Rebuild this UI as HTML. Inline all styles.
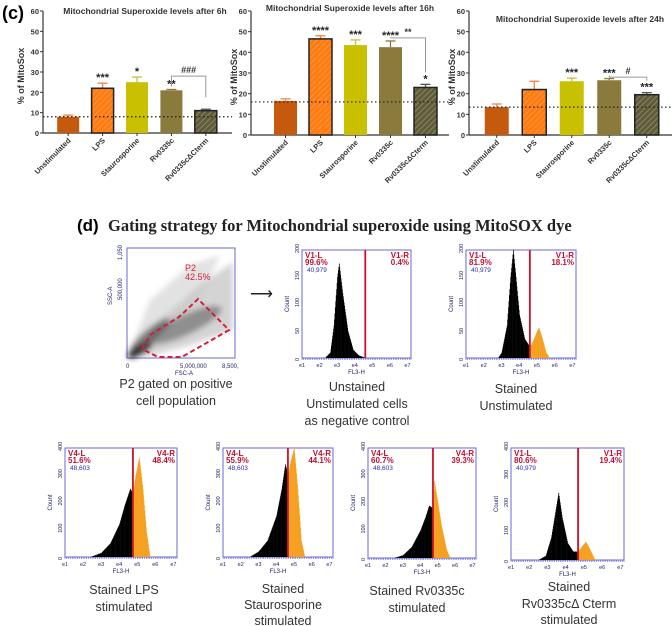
<!DOCTYPE html>
<html><head><meta charset="utf-8"><style>
html,body{margin:0;padding:0;background:#fff;}
svg{display:block;font-family:"Liberation Sans",Arial,sans-serif;}
.tick{font-size:7.5px;font-weight:bold;fill:#333;}
.cap{font-family:"Liberation Sans",sans-serif;font-size:12.5px;fill:#333;}
</style></head><body>
<svg id="fig" width="672" height="626" viewBox="0 0 672 626">
<defs>
<pattern id="hatchLPS" width="4" height="4" patternUnits="userSpaceOnUse" patternTransform="rotate(45)">
<rect width="4" height="4" fill="#ff7a12"/><line x1="0" y1="0" x2="0" y2="4" stroke="#f9a040" stroke-width="1.5"/></pattern>
<pattern id="hatchCT" width="4" height="4" patternUnits="userSpaceOnUse" patternTransform="rotate(45)">
<rect width="4" height="4" fill="#5f5c3c"/><line x1="0" y1="0" x2="0" y2="4" stroke="#9a9670" stroke-width="1.4"/></pattern>
<filter id="blur"><feGaussianBlur stdDeviation="3"/></filter>
</defs>
<text x="2" y="19" font-size="18" font-weight="bold">(c)</text>
<g id="bars"></g>
<text x="77" y="231" font-size="17" font-weight="bold">(d)</text>
<text x="108" y="231" font-size="16.5" font-family="Liberation Serif,serif" font-weight="bold" fill="#222">Gating strategy for Mitochondrial superoxide using MitoSOX dye</text>
<g id="scatter">
<rect x="127" y="248" width="108" height="110" fill="#fff" stroke="#6a6ad0" stroke-width="1"/>
<g filter="url(#blur)" opacity="0.85">
<polygon points="128,357 160,320 200,285 233,262 233,330 190,345 150,356" fill="#aaa" opacity="0.6"/>
<polygon points="128,357 150,300 190,265 220,255 200,300 150,345" fill="#bbb" opacity="0.5"/>
<ellipse cx="185" cy="325" rx="40" ry="10" transform="rotate(-25 185 325)" fill="#444" opacity="0.6"/>
<ellipse cx="150" cy="335" rx="25" ry="6" transform="rotate(-40 150 335)" fill="#333" opacity="0.7"/>
<ellipse cx="140" cy="350" rx="14" ry="5" transform="rotate(-30 140 350)" fill="#111"/>
</g>
<polygon points="142,349 150,335 179,317 198,299 229,330 182,357 158,357" fill="none" stroke="#d0203a" stroke-width="2" stroke-dasharray="5,3"/>
<text x="185" y="271" font-size="9" fill="#d0203a">P2</text><text x="185" y="280" font-size="9" fill="#d0203a">42.5%</text>
<text x="126" y="368" font-size="6" fill="#226">0</text><text x="180" y="368" font-size="6" fill="#226">5,000,000</text><text x="222" y="368" font-size="6" fill="#226">8,500,</text>
<text x="175" y="375" font-size="6" fill="#226">FSC-A</text>
<text transform="translate(112,305) rotate(-90)" font-size="6" fill="#226">SSC-A</text>
<text transform="translate(122,300) rotate(-90)" font-size="6" fill="#226">500,000</text>
<text transform="translate(122,260) rotate(-90)" font-size="6" fill="#226">1,050</text>
</g>
<text x="250" y="299" font-size="16" fill="#222">⟶</text>
<g id="hists"></g>
<g>
<text class="cap" x="176" y="388" text-anchor="middle">P2 gated on positive</text>
<text class="cap" x="176" y="405" text-anchor="middle">cell population</text>
<text class="cap" x="357" y="391" text-anchor="middle">Unstained</text>
<text class="cap" x="357" y="408" text-anchor="middle">Unstimulated cells</text>
<text class="cap" x="357" y="425" text-anchor="middle">as negative control</text>
<text class="cap" x="516" y="393" text-anchor="middle">Stained</text>
<text class="cap" x="516" y="410" text-anchor="middle">Unstimulated</text>
<text class="cap" x="124" y="594" text-anchor="middle">Stained LPS</text>
<text class="cap" x="124" y="611" text-anchor="middle">stimulated</text>
<text class="cap" x="283" y="593" text-anchor="middle">Stained</text>
<text class="cap" x="283" y="609" text-anchor="middle">Staurosporine</text>
<text class="cap" x="283" y="625" text-anchor="middle">stimulated</text>
<text class="cap" x="417" y="595" text-anchor="middle">Stained Rv0335c</text>
<text class="cap" x="417" y="612" text-anchor="middle">stimulated</text>
<text class="cap" x="569" y="591" text-anchor="middle">Stained</text>
<text class="cap" x="569" y="608" text-anchor="middle">Rv0335cΔ Cterm</text>
<text class="cap" x="569" y="624" text-anchor="middle">stimulated</text>
</g>
</svg>
<script>
const NS="http://www.w3.org/2000/svg";
// ---- bar chart data ----
const categories=["Unstimulated","LPS","Staurosporine","Rv0335c","Rv0335c\u0394Cterm"];
const titles=["Mitochondrial Superoxide levels after 6h","Mitochondrial Superoxide levels after 16h","Mitochondrial Superoxide levels after 24h"];
const means6h=[8,22,25,21,11];
const errs6h=[0.8,2.5,2.5,0.4,0.7];
const sig6h=["","***","*","**",""];
const means16h=[16.5,46.5,43.5,42.5,23];
const errs16h=[1,1.5,2.5,3,1.5];
const sig16h=["","****","***","****","*"];
const means24h=[13.5,22,26,26.5,19.5];
const errs24h=[1.5,4,1.5,0.8,1];
const sig24h=["","","***","***","***"];
const baselines=[8,16,13.5];
const brackets=[["###",28,14],["**",47,26],["#",28,22]];
const yTicks=[0,10,20,30,40,50,60];

const fills=["#c55a0e","url(#hatchLPS)","#c8c000","#8a7b3c","url(#hatchCT)"];
const errCol=["#e08a50","#f08040","#c8c040","#8a7b3c","#555"];
const strokes=["none","#222","none","none","#222"];
const layouts=[
 {ax:43,y0:133,yt:11,band0:51,bw:34.4,w:22,end:232,tx:145,ty:14,lab:24},
 {ax:251,y0:135,yt:11,band0:268,bw:35,w:23,end:449,tx:350,ty:11,lab:237},
 {ax:469,y0:135,yt:11,band0:478,bw:37.5,w:24,end:672,tx:580,ty:22,lab:455}];
const allMeans=[means6h,means16h,means24h],allErrs=[errs6h,errs16h,errs24h],allSig=[sig6h,sig16h,sig24h];
const gb=document.getElementById('bars');
function el(t,a,p){const e=document.createElementNS(NS,t);for(const k in a)e.setAttribute(k,a[k]);(p||gb).appendChild(e);return e;}
layouts.forEach((L,ci)=>{
 const g=el('g',{});
 
 
 const y=v=>L.y0-(v/60)*(L.y0-L.yt);
 const xc=i=>L.band0+L.bw*(i+0.5);
 const t=el('text',{x:L.tx,y:L.ty,'font-size':8.5,'font-weight':'bold','text-anchor':'middle',fill:'#333'},g);t.textContent=titles[ci];
 
 
 const yl=el('text',{transform:`translate(${L.lab},${(L.y0+L.yt)/2+4}) rotate(-90)`,'font-size':9,'font-weight':'bold','text-anchor':'middle',fill:'#333'},g);yl.textContent='% of MitoSox';
 
 
 el('line',{x1:L.ax,x2:L.ax,y1:L.yt,y2:L.y0,stroke:'#333','stroke-width':1.2},g);
 el('line',{x1:L.ax,x2:L.end,y1:L.y0,y2:L.y0,stroke:'#333','stroke-width':1.2},g);
 yTicks.forEach(v=>{el('line',{x1:L.ax-3,x2:L.ax,y1:y(v),y2:y(v),stroke:'#333'},g);
  const tt=el('text',{x:L.ax-4,y:y(v)+3,'text-anchor':'end',class:'tick'},g);tt.textContent=v;
  
  });
 categories.forEach((c,i)=>{
  const m=allMeans[ci][i],e=allErrs[ci][i],x=xc(i);
  el('line',{x1:x,x2:x,y1:y(m),y2:y(m+e),stroke:errCol[i],'stroke-width':1.3},g);
  el('line',{x1:x-5,x2:x+5,y1:y(m+e),y2:y(m+e),stroke:errCol[i],'stroke-width':1.3},g);
  const r=el('rect',{x:x-L.w/2,y:y(m),width:L.w,height:y(0)-y(m),fill:fills[i],stroke:strokes[i],'stroke-width':1.5},g);
  
  
  el('line',{x1:x,x2:x,y1:L.y0,y2:L.y0+3,stroke:'#333'},g);
  const s=el('text',{x:x,y:y(m+e)-2,'text-anchor':'middle','font-size':11,'font-weight':'bold',fill:'#222'},g);s.textContent=allSig[ci][i];
  
  
  const xl=el('text',{transform:`translate(${x+3},${L.y0+8}) rotate(-45)`,'text-anchor':'end',class:'tick'},g);xl.textContent=c;
  
  
 });
 el('line',{x1:L.ax,x2:L.end,y1:y(baselines[ci]),y2:y(baselines[ci]),stroke:'#222','stroke-width':1.2,'stroke-dasharray':'1.5,2.5'},g);
 const B=brackets[ci],x3=xc(3),x4=xc(4),yb=y(B[1]);
 el('path',{d:`M${x3},${y(allMeans[ci][3]+allErrs[ci][3])-3}V${yb}H${x4}V${y(allMeans[ci][4]+allErrs[ci][4])-12}`,fill:'none',stroke:'#999','stroke-width':1},g);
 const bt=el('text',{x:(x3+x4)/2,y:yb-3,'text-anchor':'middle','font-size':9,'font-weight':'bold',fill:'#333'},g);bt.textContent=B[0];
 
 
});

// ---- histogram data (decade on log FL3-H axis, counts) ----
const hUnstX=[2.3,2.6,2.8,3.0,3.1,3.3,3.6,3.9,4.2,4.6];
const hUnstY=[0,10,60,150,175,120,50,15,5,0];
const hStUnX=[2.8,3.0,3.3,3.5,3.65,3.8,4.0,4.3,4.6,4.75,5.0,5.1,5.3,5.5,5.7];
const hStUnY=[0,10,60,150,200,150,80,35,20,30,50,56,35,10,0];
const hLpsX=[2.4,3,3.5,4,4.3,4.6,4.76,4.9,5.1,5.3,5.5,5.7];
const hLpsY=[0,15,50,120,190,250,230,300,365,250,90,0];
const hStaX=[2.5,3,3.5,4,4.3,4.5,4.66,4.8,5.0,5.2,5.4,5.6];
const hStaY=[0,20,60,150,250,340,300,350,400,250,60,0];
const hRvX=[2.5,3,3.5,4,4.3,4.5,4.73,4.8,5.0,5.2,5.5,5.7];
const hRvY=[0,10,40,100,150,190,180,280,200,120,30,0];
const hCtX=[2.5,2.9,3.2,3.5,3.6,3.8,4.1,4.4,4.68,4.9,5.1,5.3,5.6];
const hCtY=[0,15,80,200,240,150,60,30,30,50,65,40,0];
const gates=[4.6,4.6,4.76,4.66,4.73,4.68];
const gateLabels=[["V1-L","99.6%","40,979","V1-R","0.4%"],["V1-L","81.9%","40,979","V1-R","18.1%"],["V4-L","51.6%","48,603","V4-R","48.4%"],["V4-L","55.9%","48,603","V4-R","44.1%"],["V4-L","60.7%","48,603","V4-R","39.3%"],["V1-L","80.6%","40,979","V1-R","19.4%"]];
const yMaxes=[200,200,400,400,400,400];
const hBoxes=[[302,250,109,108],[466,250,110,108],[65,448,112,109],[223,448,110,109],[368,448,108,110],[511,448,113,112]];
const hData=[[hUnstX,hUnstY],[hStUnX,hStUnY],[hLpsX,hLpsY],[hStaX,hStaY],[hRvX,hRvY],[hCtX,hCtY]];
const hNames=['hist-unstained','hist-stained-unstimulated','hist-lps','hist-staurosporine','hist-rv0335c','hist-rv0335c-dcterm'];
const gh=document.getElementById('hists');
function interp(xs,ys,x){if(x<=xs[0]||x>=xs[xs.length-1])return 0;for(let i=1;i<xs.length;i++)if(x<=xs[i]){const f=(x-xs[i-1])/(xs[i]-xs[i-1]);return ys[i-1]+f*(ys[i]-ys[i-1]);}return 0;}
hBoxes.forEach((b,k)=>{
 const [bx,by,bw,bh]=b;
 const g=el('g',{},gh);
 
 
 const X=d=>bx+(d-1)/6.2*bw, Y=c=>by+bh-c/yMaxes[k]*bh;
 el('rect',{x:bx,y:by,width:bw,height:bh,fill:'#fff',stroke:'#6a6ad0','stroke-width':1},g);
 const [xs,ys]=hData[k];
 for(let d=1;d<7.2;d+=0.025){const c=interp(xs,ys,d);if(c<=0)continue;
  el('rect',{x:X(d),y:Y(c),width:bw*0.025/6.2+0.3,height:Y(0)-Y(c),fill:d<gates[k]?'#000':'#f5a020'},g);}
 el('line',{x1:X(gates[k]),x2:X(gates[k]),y1:by,y2:by+bh,stroke:'#d0102a','stroke-width':1.8},g);
 const L=gateLabels[k];
 [[L[0],bx+3,by+8,'#c01030','start'],[L[1],bx+3,by+15,'#c01030','start'],[L[2],bx+5,by+22,'#2a2ab0','start'],[L[3],bx+bw-2,by+8,'#c01030','end'],[L[4],bx+bw-2,by+15,'#c01030','end']].forEach(a=>{
  const t=el('text',{x:a[1],y:a[2],'font-size':a[3]=='#2a2ab0'?6.5:8,'font-weight':a[3]=='#2a2ab0'?'normal':'bold',fill:a[3],'text-anchor':a[4]},g);t.textContent=a[0];
  
  });
 for(let d=1;d<=7;d++){const t=el('text',{x:X(d),y:by+bh+9,'font-size':5.5,fill:'#226','text-anchor':'middle'},g);t.textContent='e'+d;}
 for(let d=1;d<7.2;d+=0.1)el('line',{x1:X(d),x2:X(d),y1:by+bh,y2:by+bh+2,stroke:'#44c','stroke-width':0.5},g);
 const ft=el('text',{x:bx+bw/2,y:by+bh+16,'font-size':6,fill:'#226','text-anchor':'middle'},g);ft.textContent='FL3-H';
 const ct=el('text',{transform:`translate(${bx-13},${by+bh/2+8}) rotate(-90)`,'font-size':6,fill:'#226'},g);ct.textContent='Count';
 for(let i=0;i<=4;i++){const v=yMaxes[k]/4*i;const t=el('text',{transform:`translate(${bx-3},${Y(v)+3}) rotate(-90)`,'font-size':5.5,fill:'#226'},g);t.textContent=v;}
});
</script>
</body></html>
